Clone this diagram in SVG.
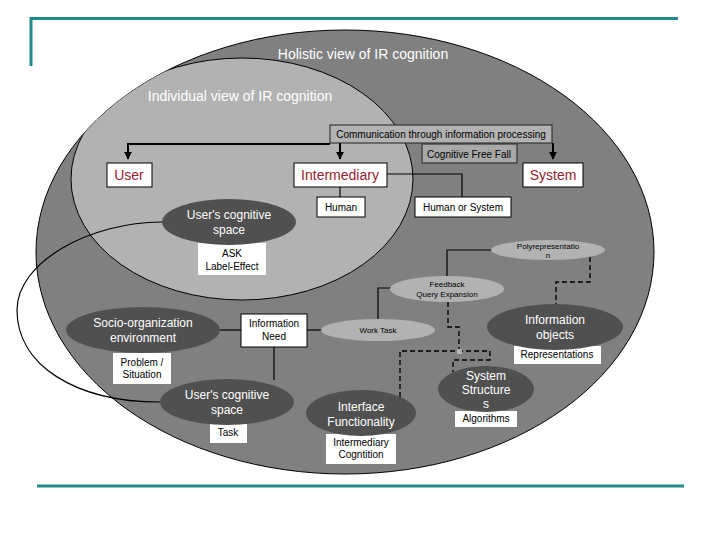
<svg xmlns="http://www.w3.org/2000/svg" width="720" height="540" viewBox="0 0 720 540">
<defs>
<style>
text{font-family:"Liberation Sans",Arial,sans-serif;text-anchor:middle}
.t10{font-size:10px;fill:#000}
.t8{font-size:8px;fill:#000}
.w12{font-size:12px;fill:#fff}
.w14{font-size:14px;fill:#fff}
.r14{font-size:14px;fill:#992233}
.box{fill:#fff;stroke:#000;stroke-width:1}
.lbl{fill:#fff}
.dark{fill:#505050}
.light{fill:#b2b2b2}
.ln{fill:none;stroke:#000;stroke-width:1.2}
.thick{fill:none;stroke:#000;stroke-width:2}
.dash{fill:none;stroke:#000;stroke-width:1.4;stroke-dasharray:5,3}
.teal{stroke:#228b8b;stroke-width:3;fill:none}
</style>
<marker id="arr" viewBox="0 0 10 10" refX="9" refY="5" markerWidth="4" markerHeight="4" orient="auto"><path d="M0,0L10,5L0,10z" fill="#000"/></marker>
<clipPath id="outerClip"><ellipse cx="345" cy="252" rx="309" ry="222"/></clipPath>
</defs>
<rect width="720" height="540" fill="#fff"/>
<g id="frame">
<path class="teal" d="M31,66V18.5H678"/>
<path class="teal" d="M37,486H684"/>
</g>
<g id="holistic">
<ellipse cx="345" cy="252" rx="309" ry="222" fill="#808080" stroke="#000" stroke-width="1"/>
<text class="w14" x="363" y="59">Holistic view of IR cognition</text>
</g>
<g id="individual">
<ellipse cx="242" cy="179" rx="171" ry="121" fill="#b2b2b2" stroke="#000" stroke-width="1" clip-path="url(#outerClip)"/>
<text class="w14" x="240" y="101">Individual view of IR cognition</text>
</g>
<g id="connectors">
<path class="ln" d="M162,222C90,222 17,262 17,310C17,365 75,402 160,402"/>
<path class="thick" d="M330,144H128V159" marker-end="url(#arr)"/>
<path class="thick" d="M340,143V159" marker-end="url(#arr)"/>
<path class="thick" d="M553,143V159" marker-end="url(#arr)"/>
<path class="ln" d="M340,187V197"/>
<path class="ln" d="M387,174H462V197"/>
<path class="ln" d="M220,330H241"/>
<path class="ln" d="M307,330H322"/>
<path class="ln" d="M274,347V380"/>
<path class="ln" d="M378,319V288H391"/>
<path class="ln" d="M492,250H447V277"/>
<path class="dash" d="M448,302V327H459V351"/>
<path class="dash" d="M400,397V351H490V360H453V372"/>
<path class="dash" d="M590,257V282H556V304"/>
<rect x="457" y="349" width="5" height="5" fill="#b2b2b2"/>
</g>
<g id="communication">
<rect x="330" y="125" width="222" height="18" fill="#b2b2b2" stroke="#222" stroke-width="1"/>
<text class="t10" x="441" y="138">Communication through information processing</text>
</g>
<g id="cognitive-free-fall">
<rect x="422" y="144" width="95" height="19" fill="#a8a8a8" stroke="#333" stroke-width="1.2"/>
<text class="t10" x="469" y="158">Cognitive Free Fall</text>
</g>
<g id="user">
<rect class="box" x="107" y="163" width="45" height="24"/>
<text class="r14" x="129" y="180">User</text>
</g>
<g id="intermediary">
<rect class="box" x="294" y="163" width="93" height="24"/>
<text class="r14" x="340" y="180">Intermediary</text>
</g>
<g id="system">
<rect class="box" x="523" y="163" width="60" height="24"/>
<text class="r14" x="553" y="180">System</text>
</g>
<g id="human">
<rect class="box" x="317" y="197" width="48" height="20"/>
<text class="t10" x="341" y="211">Human</text>
</g>
<g id="human-or-system">
<rect class="box" x="415" y="197" width="96" height="20"/>
<text class="t10" x="463" y="211">Human or System</text>
</g>
<g id="users-cognitive-space-top">
<rect class="lbl" x="198" y="243" width="68" height="32"/>
<ellipse class="dark" cx="229" cy="222" rx="67" ry="23"/>
<text class="w12" x="229" y="219">User's cognitive</text>
<text class="w12" x="229" y="234">space</text>
<text class="t10" x="232" y="257">ASK</text>
<text class="t10" x="232" y="270">Label-Effect</text>
</g>
<g id="polyrepresentation">
<ellipse class="light" cx="548" cy="250" rx="57" ry="10"/>
<text class="t8" x="548" y="249">Polyrepresentatio</text>
<text class="t8" x="548" y="258">n</text>
</g>
<g id="feedback">
<ellipse class="light" cx="447" cy="289" rx="57" ry="13"/>
<text class="t8" x="447" y="287">Feedback</text>
<text class="t8" x="447" y="297">Query Expansion</text>
</g>
<g id="work-task">
<ellipse class="light" cx="378" cy="330" rx="57" ry="11"/>
<text class="t8" x="378" y="333">Work Task</text>
</g>
<g id="socio-organization">
<rect class="lbl" x="113" y="353" width="58" height="31"/>
<ellipse class="dark" cx="143" cy="330" rx="77" ry="23"/>
<text class="w12" x="143" y="327">Socio-organization</text>
<text class="w12" x="143" y="342">environment</text>
<text class="t10" x="142" y="366">Problem /</text>
<text class="t10" x="142" y="378">Situation</text>
</g>
<g id="information-need">
<rect class="box" x="241" y="314" width="66" height="33"/>
<text class="t10" x="274" y="327">Information</text>
<text class="t10" x="274" y="340">Need</text>
</g>
<g id="users-cognitive-space-bottom">
<rect class="lbl" x="210" y="424" width="37" height="19"/>
<ellipse class="dark" cx="227" cy="402" rx="67" ry="23"/>
<text class="w12" x="227" y="399">User's cognitive</text>
<text class="w12" x="227" y="414">space</text>
<text class="t10" x="228" y="436">Task</text>
</g>
<g id="information-objects">
<rect class="lbl" x="514" y="346" width="87" height="18"/>
<ellipse class="dark" cx="555" cy="327" rx="68" ry="23"/>
<text class="w12" x="555" y="324">Information</text>
<text class="w12" x="555" y="339">objects</text>
<text class="t10" x="557" y="358">Representations</text>
</g>
<g id="interface-functionality">
<rect class="lbl" x="326" y="434" width="70" height="30"/>
<ellipse class="dark" cx="361" cy="413" rx="55" ry="23"/>
<text class="w12" x="361" y="411">Interface</text>
<text class="w12" x="361" y="426">Functionality</text>
<text class="t10" x="361" y="446">Intermediary</text>
<text class="t10" x="361" y="458">Cogntition</text>
</g>
<g id="system-structures">
<rect class="lbl" x="455" y="411" width="62" height="16"/>
<ellipse class="dark" cx="486" cy="389" rx="48" ry="23"/>
<text class="w12" x="486" y="380">System</text>
<text class="w12" x="486" y="394">Structure</text>
<text class="w12" x="486" y="408">s</text>
<text class="t10" x="486" y="422">Algorithms</text>
</g>
</svg>
